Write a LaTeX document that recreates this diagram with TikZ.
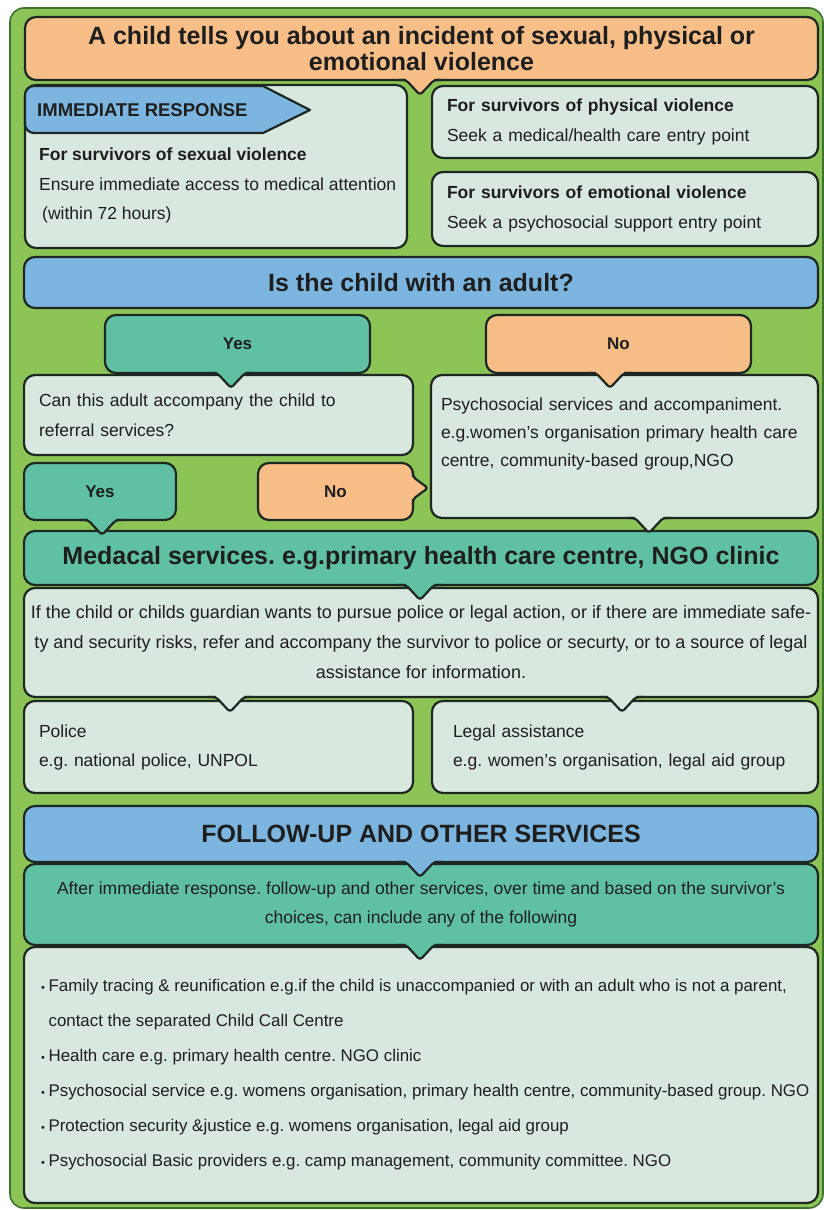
\documentclass[tikz,border=0pt]{standalone}
\usepackage{fontspec}
\setmainfont{Liberation Sans}
\frenchspacing

\definecolor{framegreen}{RGB}{140,196,86}
\definecolor{framedark}{RGB}{62,112,48}
\definecolor{edgecol}{RGB}{30,40,34}
\definecolor{txtcol}{RGB}{30,30,30}
\definecolor{peach}{RGB}{247,190,136}
\definecolor{skyblue}{RGB}{124,182,224}
\definecolor{teal}{RGB}{96,192,164}
\definecolor{pale}{RGB}{217,232,222}

\newcommand{\dotitem}{{\fontsize{11}{11}\selectfont\textbullet}\hspace{3.5pt}}

% tail under a box: fill colour, node, x offset from its south anchor
\newcommand{\tailS}[3]{%
  \fill[#1] ([xshift=#3pt-14pt,yshift=1.8pt]#2.south) -- ([xshift=#3pt-14pt]#2.south)
    -- ([xshift=#3pt,yshift=-15pt]#2.south) -- ([xshift=#3pt+14pt]#2.south)
    -- ([xshift=#3pt+14pt,yshift=1.8pt]#2.south) -- cycle;
  \draw[edge, rounded corners=3pt] ([xshift=#3pt-22pt]#2.south) -- ([xshift=#3pt-14pt]#2.south)
    -- ([xshift=#3pt,yshift=-15pt]#2.south) -- ([xshift=#3pt+14pt]#2.south)
    -- ([xshift=#3pt+22pt]#2.south);}
% tail to the right of a box: fill colour, node, y offset from its east anchor
\newcommand{\tailE}[3]{%
  \fill[#1] ([xshift=-1.8pt,yshift=#3pt+11pt]#2.east) -- ([yshift=#3pt+11pt]#2.east)
    -- ([xshift=15pt,yshift=#3pt]#2.east) -- ([yshift=#3pt-11pt]#2.east)
    -- ([xshift=-1.8pt,yshift=#3pt-11pt]#2.east) -- cycle;
  \draw[edge, rounded corners=3pt] ([yshift=#3pt+17pt]#2.east) -- ([yshift=#3pt+11pt]#2.east)
    -- ([xshift=15pt,yshift=#3pt]#2.east) -- ([yshift=#3pt-11pt]#2.east)
    -- ([yshift=#3pt-17pt]#2.east);}

\tikzset{
  edge/.style={draw=edgecol, line width=2.2pt, line join=round},
  box/.style={draw=edgecol, line width=2.2pt, rounded corners=11pt, inner sep=0pt,
    outer sep=0pt, text=txtcol, font=\fontsize{17.5}{30}\selectfont},
  headline/.style={font=\bfseries\fontsize{25}{26}\selectfont, align=center},
  answer/.style={font=\bfseries\fontsize{17}{20}\selectfont},
}

\begin{document}
\begin{tikzpicture}[x=1pt, y=-1pt]
    \useasboundingbox (0,0) rectangle (824,1210);
    \fill[white] (0,0) rectangle (824,1210);
    \draw[draw=framedark, line width=1.6pt, fill=framegreen, rounded corners=14pt] (10,8) rectangle (823,1208);

    \node[box, fill=peach, headline, minimum width=793pt, minimum height=63pt] (title) at (421.5,48.5)
    {A child tells you about an incident of sexual, physical or\\ emotional violence};

    \node[box, fill=pale, minimum width=382pt, minimum height=163pt] (imm) at (216,166.5) {};
    \draw[edge, fill=skyblue] (310,110) -- (263,133) [rounded corners=9pt] -- (25,133) -- (25,86) [sharp corners] -- (263,86) -- cycle;
    \node[anchor=west, inner sep=0pt, text=txtcol, font=\bfseries\fontsize{18.5}{20}\selectfont] (immtag) at (37,110) {IMMEDIATE RESPONSE};
    \node[anchor=north west, inner sep=0pt, text=txtcol, align=left, font=\fontsize{17.5}{29.5}\selectfont] (immtext) at (39,148)
    {{\bfseries For survivors of sexual violence}\\ Ensure immediate access to medical attention\\ \hspace{3pt}(within 72 hours)};

    \node[box, fill=pale, minimum width=386pt, minimum height=72pt, text width=356pt, align=left] (phys) at (625,122)
    {{\bfseries For survivors of physical violence}\\ Seek a medical/health care entry point};
    \node[box, fill=pale, minimum width=386pt, minimum height=74pt, text width=356pt, align=left] (emo) at (625,209)
    {{\bfseries For survivors of emotional violence}\\ Seek a psychosocial support entry point};

    \node[box, fill=skyblue, headline, minimum width=794pt, minimum height=51pt] (adultq) at (421,282.5) {Is the child with an adult?};

    \node[box, fill=teal, answer, minimum width=265pt, minimum height=58pt] (yes1) at (237.5,344) {Yes};
    \node[box, fill=peach, answer, minimum width=265pt, minimum height=58pt] (no1) at (618.5,344) {No};

    \node[box, fill=pale, minimum width=389pt, minimum height=80pt, text width=359pt, align=left] (canadult) at (218.5,415)
    {Can this adult accompany the child to\\ referral services?};
    \node[box, fill=pale, minimum width=387pt, minimum height=143pt, text width=367pt, align=left, font=\fontsize{17.5}{28}\selectfont] (psy) at (624.5,446.5)
    {Psychosocial services and accompaniment.\\ e.g.women's organisation primary health care\\ centre, community-based group,NGO\\ \mbox{}};

    \node[box, fill=teal, answer, minimum width=152pt, minimum height=57pt] (yes2) at (100,491.5) {Yes};
    \node[box, fill=peach, answer, minimum width=155pt, minimum height=57pt] (no2) at (335.5,491.5) {No};

    \node[box, fill=teal, headline, minimum width=794pt, minimum height=54pt] (med) at (421,558)
    {Medacal services. e.g.primary health care centre, NGO clinic};
    \node[box, fill=pale, minimum width=794pt, minimum height=109pt, align=center, font=\fontsize{18}{30}\selectfont] (ifchild) at (421,642.5)
    {If the child or childs guardian wants to pursue police or legal action, or if there are immediate safe-\\
    ty and security risks, refer and accompany the survivor to police or securty, or to a source of legal\\
    assistance for information.};

    \node[box, fill=pale, minimum width=389pt, minimum height=92pt, text width=359pt, align=left, font=\fontsize{17.5}{29}\selectfont] (police) at (218.5,747)
    {Police\\ e.g. national police, UNPOL};
    \node[box, fill=pale, minimum width=386pt, minimum height=92pt, text width=344pt, align=left, font=\fontsize{17.5}{29}\selectfont] (legal) at (625,747)
    {Legal assistance\\ e.g. women's organisation, legal aid group};

    \node[box, fill=skyblue, headline, minimum width=794pt, minimum height=56pt] (follow) at (421,834) {FOLLOW-UP AND OTHER SERVICES};
    \node[box, fill=teal, minimum width=794pt, minimum height=81pt, align=center, font=\fontsize{17.5}{29}\selectfont] (after) at (421,904.5)
    {After immediate response. follow-up and other services, over time and based on the survivor's\\
    choices, can include any of the following};
    \node[box, fill=pale, minimum width=794pt, minimum height=256pt] (list) at (421,1075) {};
    \node[anchor=north west, inner sep=0pt, text=txtcol, align=left, font=\fontsize{16.9}{35}\selectfont] (listtext) at (41,979)
    {\dotitem Family tracing \& reunification e.g.if the child is unaccompanied or with an adult who is not a parent,\\
    \phantom{\dotitem}contact the separated Child Call Centre\\
    \dotitem Health care e.g. primary health centre. NGO clinic\\
    \dotitem Psychosocial service e.g. womens organisation, primary health centre, community-based group. NGO\\
    \dotitem Protection security \&justice e.g. womens organisation, legal aid group\\
    \dotitem Psychosocial Basic providers e.g. camp management, community committee. NGO};

    \tailS{peach}{title}{-1.5}
    \tailS{teal}{yes1}{-6.5}
    \tailS{peach}{no1}{-8.5}
    \tailS{pale}{psy}{24.5}
    \tailS{teal}{yes2}{2}
    \tailE{peach}{no2}{3.5}
    \tailS{teal}{med}{-1}
    \tailS{pale}{ifchild}{-191}
    \tailS{pale}{ifchild}{201}
    \tailS{skyblue}{follow}{-1}
    \tailS{teal}{after}{-1}
\end{tikzpicture}
\end{document}
